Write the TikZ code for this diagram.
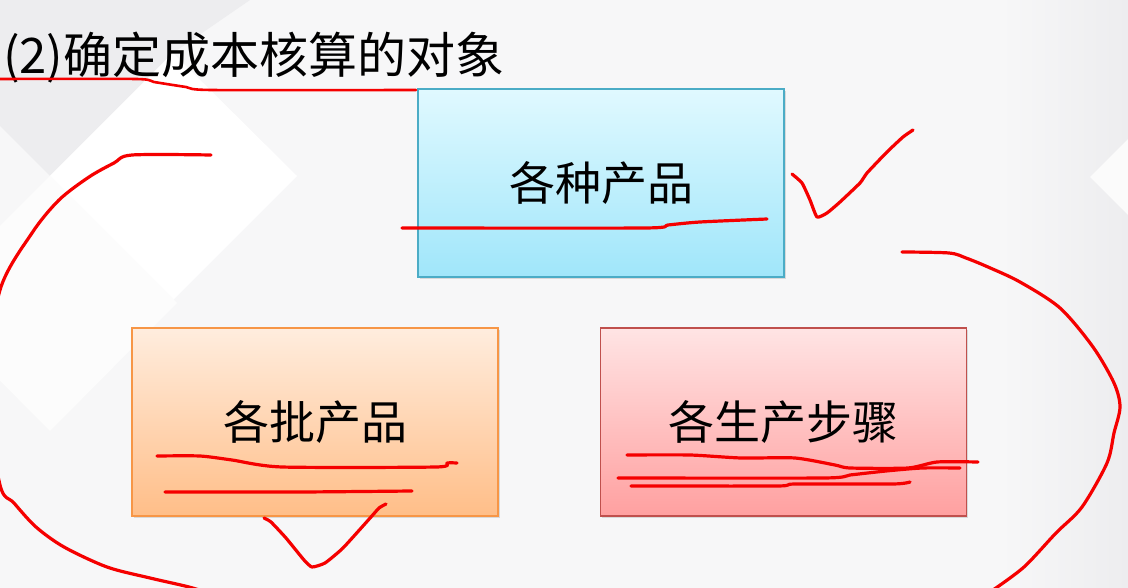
\documentclass[tikz,border=0pt]{standalone}
\usepackage{fontspec}
\newfontfamily\cjk{Noto Sans CJK SC}
\usetikzlibrary{positioning,shadows}

\begin{document}
\begin{tikzpicture}[x=1pt,y=-1pt]
  % Définition des couleurs
  \definecolor{fondclair}{RGB}{247,247,248}
  \definecolor{fondgris}{RGB}{237,237,239}
  \definecolor{bleuhaut}{RGB}{224,249,255}
  \definecolor{bleubas}{RGB}{160,230,250}
  \definecolor{bleubord}{RGB}{75,172,198}
  \definecolor{orangehaut}{RGB}{255,237,222}
  \definecolor{orangebas}{RGB}{255,190,136}
  \definecolor{orangebord}{RGB}{247,150,70}
  \definecolor{rosehaut}{RGB}{255,228,228}
  \definecolor{rosebas}{RGB}{255,160,160}
  \definecolor{rosebord}{RGB}{192,80,77}
  \definecolor{encre}{RGB}{245,0,0}

  \tikzset{
    boite/.style={minimum width=366pt, minimum height=188pt, line width=1.2pt,
      drop shadow={shadow xshift=2pt, shadow yshift=-2pt, opacity=0.25},
      font=\cjk\fontsize{46}{46}\selectfont},
    trait/.style={draw=encre, line width=3.2pt, line cap=round, line join=round},
  }

  \useasboundingbox (0,0) rectangle (1128,588);
  \clip (0,0) rectangle (1128,588);

  % --- Fond à losanges ---
  \fill[fondclair] (0,0) rectangle (1128,588);
  \fill[fondgris] (0,0) -- (250,0) -- (173,53) -- (50,176) -- (0,126) -- cycle;
  \fill[white] (50,176) -- (173,53) -- (297,176) -- (173,300) -- cycle;
  \fill[white!60!fondclair] (-77,303) -- (50,176) -- (177,303) -- (50,431) -- cycle;
  \shade[left color=fondclair, right color=fondgris] (1000,0) rectangle (1128,588);
  \fill[white!50!fondclair] (1090,177) -- (1128,139) -- (1128,215) -- cycle;

  % Titre
  \node[font=\cjk\fontsize{49}{49}\selectfont, anchor=west, inner sep=0pt] (titre) at (3,58) {(2)确定成本核算的对象};

  % --- Les trois boîtes ---
  \node[boite, top color=bleuhaut, bottom color=bleubas, draw=bleubord] (produits) at (601,183) {各种产品};
  \node[boite, top color=orangehaut, bottom color=orangebas, draw=orangebord] (lots) at (315,422) {各批产品};
  \node[boite, top color=rosehaut, bottom color=rosebas, draw=rosebord, right=101pt of lots] (etapes) {各生产步骤};

  % --- Annotations à la main ---
  % Soulignement du titre
  \draw[trait, line width=2.6pt] plot[smooth, tension=0.4] coordinates {(-5,79) (136,79) (154,82) (186,87) (211,90) (416,90)};
  % Grande boucle à gauche
  \draw[trait] plot[smooth, tension=0.5] coordinates {(211,155) (132,155) (114,163) (89,177) (59,200) (32,233) (0,290) (-14,390) (0,485) (14,503) (36,527) (64,547) (107,567) (150,578) (189,587) (215,595)};
  % Soulignement de « 各种产品 »
  \draw[trait] plot[smooth, tension=0.4] coordinates {(402,228) (645,228) (668,225) (700,222) (767,219)};
  % Coche à droite
  \draw[trait] plot[smooth, tension=0.3] coordinates {(792,174) (802,183) (810,200) (817,217) (827,213) (840,202) (860,183) (867,173) (887,152) (903,137) (913,130)};
  % Grande boucle à droite
  \draw[trait] plot[smooth, tension=0.5] coordinates {(902,252) (949,253) (966,258) (988,267) (1020,282) (1060,308) (1093,347) (1114,383) (1120,407) (1114,433) (1107,463) (1082,507) (1056,533) (1024,567) (993,590)};
  % Soulignements de « 各批产品 »
  \draw[trait] plot[smooth, tension=0.4] coordinates {(157,456) (200,456) (232,460) (282,467) (436,467) (447,463) (457,463)};
  \draw[trait] plot[smooth, tension=0.4] coordinates {(165,492) (300,492) (412,491)};
  % Coche sous « 各批产品 »
  \draw[trait] plot[smooth, tension=0.3] coordinates {(264,518) (271,522) (286,538) (304,560) (312,567) (325,563) (343,548) (371,517) (379,508) (386,504)};
  % Soulignements de « 各生产步骤 »
  \draw[trait] plot[smooth, tension=0.4] coordinates {(627,455) (690,455) (741,458) (795,458) (835,465) (850,468) (908,468) (937,462) (978,462)};
  \draw[trait] plot[smooth, tension=0.4] coordinates {(618,478) (824,478) (850,475) (886,471) (922,468) (960,468)};
  \draw[trait] plot[smooth, tension=0.4] coordinates {(631,486) (777,486) (795,484) (893,484) (910,482)};

\end{tikzpicture}
\end{document}
